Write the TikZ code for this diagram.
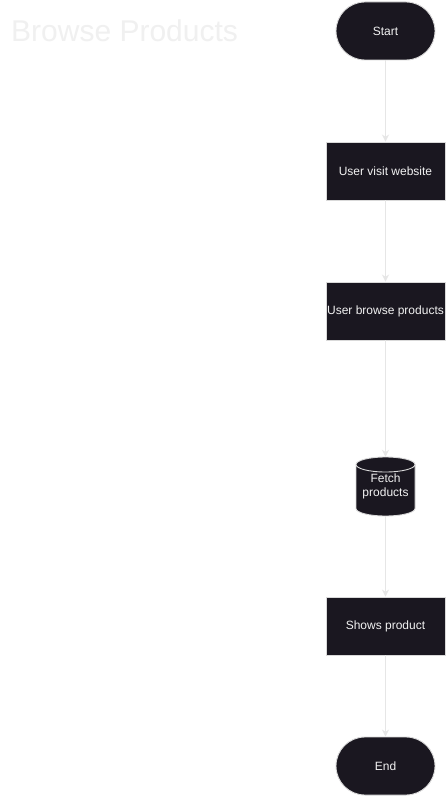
\documentclass[tikz,border=0pt]{standalone}
\usepackage{fontspec}
\setmainfont{Liberation Sans}
\usetikzlibrary{arrows.meta}
\definecolor{nodefill}{HTML}{1A1720}
\definecolor{nodeline}{HTML}{D9D9D9}
\definecolor{nodetext}{HTML}{F2F2F2}
\definecolor{edgecol}{HTML}{E6E6E6}
\definecolor{titlecol}{HTML}{F0F0F0}
\begin{document}
\begin{tikzpicture}[x=1pt,y=1pt,
  base/.style={fill=nodefill,draw=nodeline,line width=0.9pt,text=nodetext,font=\fontsize{12}{14}\selectfont,inner sep=0pt,align=center},
  terminal/.style={base,rounded corners=29pt,minimum width=99pt,minimum height=58pt},
  process/.style={base,minimum width=119pt,minimum height=58pt},
  conn/.style={draw=edgecol,line width=0.8pt,-{Stealth[length=7pt,width=7pt]}}]
\useasboundingbox (0,0) rectangle (446,-797);
\fill[white] (0,0) rectangle (446,-797);
\node[anchor=base west,inner sep=0pt,text=titlecol,font=\fontsize{30}{34}\selectfont] (title) at (11,-42) {Browse Products};
\node[terminal] (start) at (385.5,-31) {Start};
\node[process] (visit) at (385.5,-171) {User visit website};
\node[process] (browse) at (385.5,-311) {User browse products};
% cylinder
\node[inner sep=0pt,minimum width=59pt,minimum height=59pt] (fetch) at (385.5,-486.5) {};
\fill[nodefill] (356,-464.5) -- (356,-508.5) arc[start angle=180,end angle=360,x radius=29.5pt,y radius=7.5pt] -- (415,-464.5) arc[start angle=0,end angle=180,x radius=29.5pt,y radius=7.5pt] -- cycle;
\draw[nodeline,line width=0.9pt] (356,-464.5) arc[start angle=180,end angle=360,x radius=29.5pt,y radius=7.5pt];
\draw[nodeline,line width=0.9pt] (356,-464.5) arc[start angle=180,end angle=0,x radius=29.5pt,y radius=7.5pt];
\draw[nodeline,line width=0.9pt] (356,-464.5) -- (356,-508.5) arc[start angle=180,end angle=360,x radius=29.5pt,y radius=7.5pt] -- (415,-464.5);
\node[text=nodetext,font=\fontsize{12}{14}\selectfont,align=center,inner sep=0pt] (fetchtext) at (385.5,-486) {Fetch\\products};
\node[process] (shows) at (385.5,-626) {Shows product};
\node[terminal] (end) at (385.5,-766) {End};
\draw[conn] (start) -- (visit);
\draw[conn] (visit) -- (browse);
\draw[conn] (browse) -- (fetch);
\draw[conn] (fetch) -- (shows);
\draw[conn] (shows) -- (end);
\end{tikzpicture}
\end{document}
